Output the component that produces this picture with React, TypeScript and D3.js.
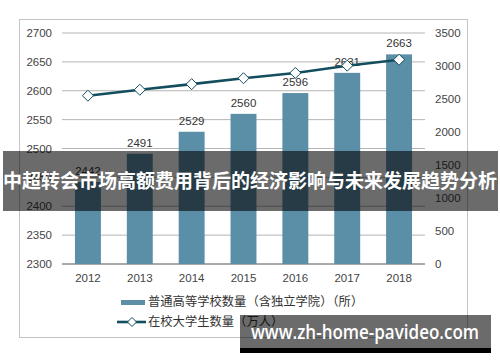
import React from "react";
import * as d3 from "d3";

const years = ["2012", "2013", "2014", "2015", "2016", "2017", "2018"];
const schools = [2442, 2491, 2529, 2560, 2596, 2631, 2663];
const students = [2550, 2640, 2725, 2815, 2895, 3005, 3095];
const leftTicks = [2300, 2350, 2400, 2450, 2500, 2550, 2600, 2650, 2700];
const rightTicks = [0, 500, 1000, 1500, 2000, 2500, 3000, 3500];
const legendBar = "普通高等学校数量（含独立学院）（所）";
const legendLine = "在校大学生数量（万人）";
const title = "中超转会市场高额费用背后的经济影响与未来发展趋势分析";
const watermark = "www.zh-home-pavideo.com";

const W = 500, H = 362;
const plot = { left: 62, right: 425, top: 33, bottom: 264 };
const barColor = "#5b8ea7";
const lineColor = "#134e5e";
const font = "'Liberation Sans', Arial, sans-serif";
const cjk = "'Noto Sans CJK SC', sans-serif";

export default function App() {
  const x = d3.scaleBand<string>().domain(years).range([plot.left, plot.right]).paddingInner(0.5).paddingOuter(0.25);
  const yL = d3.scaleLinear().domain([2300, 2700]).range([plot.bottom, plot.top]);
  const yR = d3.scaleLinear().domain([0, 3500]).range([plot.bottom, plot.top]);
  const line = d3.line<number>().x((_, i) => x(years[i])! + x.bandwidth() / 2).y((d) => yR(d));
  const diamond = (cx: number, cy: number, r: number) => `M${cx},${cy - r}L${cx + r},${cy}L${cx},${cy + r}L${cx - r},${cy}Z`;

  return (
    <svg width={W} height={H} style={{ position: "absolute", left: 0, top: 0, background: "#fff" }}>
      <rect x={19.5} y={19.5} width={448} height={318} fill="#fff" stroke="#c4c4c4" />
      {leftTicks.map((t) => (
        <g key={t}>
          <line x1={plot.left} x2={plot.right} y1={yL(t)} y2={yL(t)} stroke={t === 2300 ? "#555" : "#b4b4b4"} strokeWidth={1} />
          <text x={52} y={yL(t)} dy="0.35em" textAnchor="end" fontFamily={font} fontSize={11.5} fill="#444">{t}</text>
        </g>
      ))}
      {rightTicks.map((t) => (
        <text key={t} x={435} y={yR(t)} dy="0.35em" textAnchor="start" fontFamily={font} fontSize={11.5} fill="#444">{t}</text>
      ))}
      {years.map((yr, i) => (
        <g key={yr}>
          <rect x={x(yr)} y={yL(schools[i])} width={x.bandwidth()} height={plot.bottom - yL(schools[i])} fill={barColor} />
          <text x={x(yr)! + x.bandwidth() / 2} y={yL(schools[i]) - 7} textAnchor="middle" fontFamily={font} fontSize={11.5} fill="#333">{schools[i]}</text>
          <text x={x(yr)! + x.bandwidth() / 2} y={278} dy="0.35em" textAnchor="middle" fontFamily={font} fontSize={11.5} fill="#444">{yr}</text>
        </g>
      ))}
      <path d={line(students) || ""} fill="none" stroke={lineColor} strokeWidth={2.6} />
      {students.map((v, i) => (
        <path key={i} d={diamond(x(years[i])! + x.bandwidth() / 2, yR(v), 5.5)} fill="#fff" stroke={lineColor} strokeWidth={1} />
      ))}
      {/* legend */}
      <rect x={121} y={300} width={24} height={5} fill={barColor} />
      <text x={148} y={302} dy="0.35em" fontFamily={cjk} fontSize={12.3} fill="#333">{legendBar}</text>
      <line x1={117} x2={146} y1={322} y2={322} stroke={lineColor} strokeWidth={2.6} />
      <path d={diamond(132, 322, 4.5)} fill="#fff" stroke={lineColor} strokeWidth={1} />
      <text x={148} y={322} dy="0.35em" fontFamily={cjk} fontSize={12.3} fill="#333">{legendLine}</text>
      {/* title band */}
      <rect x={3} y={151} width={495} height={60} fill="#000" fillOpacity={0.58} />
      <text x={250} y={181} dy="0.36em" textAnchor="middle" fontFamily={cjk} fontWeight={700} fontSize={19} fill="#fff">{title}</text>
      {/* watermark */}
      <rect x={240} y={315} width={251} height={33} fill="#000" fillOpacity={0.58} />
      <rect x={240} y={348} width={251} height={5} fill="#000" />
      <text x={365} y={332} dy="0.36em" textAnchor="middle" fontFamily="'Open Sans', sans-serif" fontWeight={600} fontSize={19.5} textLength={228} lengthAdjust="spacingAndGlyphs" fill="#fff">{watermark}</text>
    </svg>
  );
}
